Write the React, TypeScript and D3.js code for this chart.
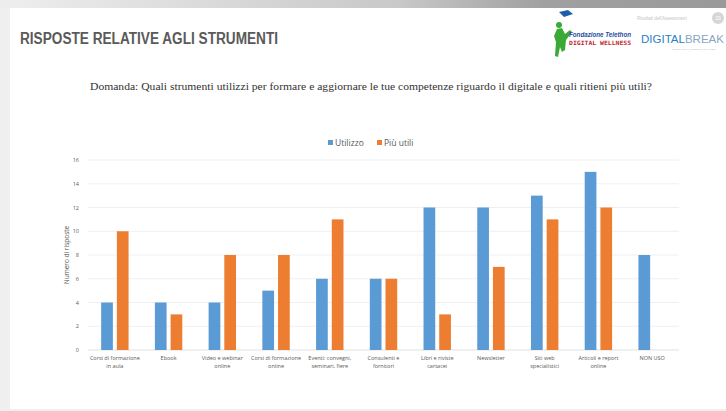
import React from "react";
import * as d3 from "d3";

const categories: string[][] = [
  ["Corsi di formazione", "in aula"],
  ["Ebook"],
  ["Video e webinar", "online"],
  ["Corsi di formazione", "online"],
  ["Eventi: convegni,", "seminari, fiere"],
  ["Consulenti e", "fornitori"],
  ["Libri e riviste", "cartacei"],
  ["Newsletter"],
  ["Siti web", "specialistici"],
  ["Articoli e report", "online"],
  ["NON USO"],
];
const utilizzo: number[] = [4, 4, 4, 5, 6, 6, 12, 12, 13, 15, 8];
const piuUtili: (number | null)[] = [10, 3, 8, 8, 11, 6, 3, 7, 11, 12, null];
const yTicks: number[] = [0, 2, 4, 6, 8, 10, 12, 14, 16];
const seriesNames = ["Utilizzo", "Più utili"];
const colors = ["#5b9bd5", "#ed7d31"];

export default function App() {
  const W = 726, H = 411;
  const ids = categories.map((_, i) => String(i));
  const x = d3.scaleBand<string>().domain(ids).range([88, 679]);
  const y = d3.scaleLinear().domain([0, 16]).range([350, 160]);
  const barW = 11.7;
  const gap = 4;
  const groupW = barW * 2 + gap;
  const axisFont = "'Open Sans', 'Noto Sans', sans-serif";

  return (
    <svg width={W} height={H} style={{ position: "absolute", left: 0, top: 0 }}>
      <defs>
        <linearGradient id="topband" x1="0" x2="1" y1="0" y2="0">
          <stop offset="0" stopColor="#eeeeee" />
          <stop offset="0.55" stopColor="#c8c8c8" />
          <stop offset="0.75" stopColor="#a0a0a0" />
          <stop offset="1" stopColor="#9a9a9a" />
        </linearGradient>
      </defs>
      <rect x={0} y={0} width={W} height={H} fill="#efefef" />
      <rect x={0} y={0} width={W} height={8} fill="url(#topband)" />
      <rect x={10} y={8} width={W - 10} height={401} fill="#ffffff" />

      {/* Title */}
      <text x={20} y={44} fontFamily="'Liberation Sans', Arial, sans-serif" fontWeight="bold"
        fontSize={16} fill="#5a5a5a" textLength={258} lengthAdjust="spacingAndGlyphs">
        RISPOSTE RELATIVE AGLI STRUMENTI
      </text>

      {/* Logos */}
      <g>
        <path d="M557,29 L562,28 L565,34 L570,30 L572,32 L566,40 L565,50 L562,52 L560,47 L558,57 L555,56 L556,42 L554,36 Z" fill="#3aa935" />
        <circle cx={559} cy={25} r={3} fill="#3aa935" />
        <path d="M559,12 L568,10 L573,14 L564,17 Z" fill="#1f5fa8" />
        <text x={569} y={37} fontFamily="'Liberation Sans', Arial, sans-serif" fontStyle="italic" fontWeight="bold" fontSize={7} fill="#1f4ea0" textLength={62} lengthAdjust="spacingAndGlyphs">Fondazione Telethon</text>
        <text x={569} y={45} fontFamily="'DejaVu Sans Mono', monospace" fontWeight="bold" fontSize={6} fill="#c0282e" textLength={62} lengthAdjust="spacingAndGlyphs">DIGITAL WELLNESS</text>
        <text x={641} y={43} fontFamily="'Liberation Sans', Arial, sans-serif" fontSize={10.5} fill="#5d9fd6" textLength={83} lengthAdjust="spacingAndGlyphs">
          <tspan fill="#2b7fc8">DIGITAL</tspan><tspan fill="#8aa6c0">BREAK</tspan>
        </text>
        <text x={672} y={50} fontFamily="'Liberation Sans', sans-serif" fontSize={2.5} fill="#b0b0b0">THE PATHWAY TO DIGITAL CHANGE</text>
        <text x={637} y={20} fontFamily="'Liberation Sans', sans-serif" fontSize={4.5} fill="#c4c4c4">Risultati dell'Assessment</text>
        <circle cx={718} cy={18} r={6} fill="#d6d6d6" />
        <text x={718} y={20} textAnchor="middle" fontFamily="'Liberation Sans', sans-serif" fontSize={5} fill="#ffffff">33</text>
      </g>

      {/* Question */}
      <text x={371} y={90} textAnchor="middle" fontFamily="'Liberation Serif', 'DejaVu Serif', serif"
        fontSize={11} fill="#333333" textLength={562} lengthAdjust="spacingAndGlyphs">
        Domanda: Quali strumenti utilizzi per formare e aggiornare le tue competenze riguardo il digitale e quali ritieni più utili?
      </text>

      {/* Legend */}
      <g fontFamily={axisFont} fontSize={8.5} fill="#595959">
        <rect x={328} y={140} width={5} height={5} fill={colors[0]} />
        <text x={335} y={146}>{seriesNames[0]}</text>
        <rect x={377} y={140} width={5} height={5} fill={colors[1]} />
        <text x={384} y={146}>{seriesNames[1]}</text>
      </g>

      {/* Gridlines */}
      {yTicks.map((t) => (
        <line key={"g" + t} x1={88} x2={679} y1={y(t)} y2={y(t)}
          stroke={t === 0 ? "#d9d9d9" : "#ececec"} strokeWidth={0.8} />
      ))}
      {/* Y tick labels */}
      {yTicks.map((t) => (
        <text key={"t" + t} x={79} y={y(t) + 2} textAnchor="end" fontFamily={axisFont}
          fontSize={5.5} fill="#595959">{t}</text>
      ))}
      <text transform={`translate(69,255) rotate(-90)`} textAnchor="middle" fontFamily={axisFont}
        fontSize={6.5} fill="#595959">Numero di risposte</text>

      {/* Bars */}
      {ids.map((id, i) => {
        const c = (x(id) as number) + x.bandwidth() / 2;
        const x0 = c - groupW / 2;
        const vals = [utilizzo[i], piuUtili[i]];
        return (
          <g key={"b" + id}>
            {vals.map((v, s) =>
              v == null ? null : (
                <rect key={s} x={x0 + s * (barW + gap)} y={y(v)} width={barW}
                  height={y(0) - y(v)} fill={colors[s]} />
              )
            )}
          </g>
        );
      })}

      {/* X labels */}
      {ids.map((id, i) => {
        const c = (x(id) as number) + x.bandwidth() / 2;
        return (
          <text key={"x" + id} x={c} y={360} textAnchor="middle" fontFamily={axisFont}
            fontSize={5.5} fill="#595959">
            {categories[i].map((line, k) => (
              <tspan key={k} x={c} dy={k === 0 ? 0 : 8}>{line}</tspan>
            ))}
          </text>
        );
      })}
    </svg>
  );
}
